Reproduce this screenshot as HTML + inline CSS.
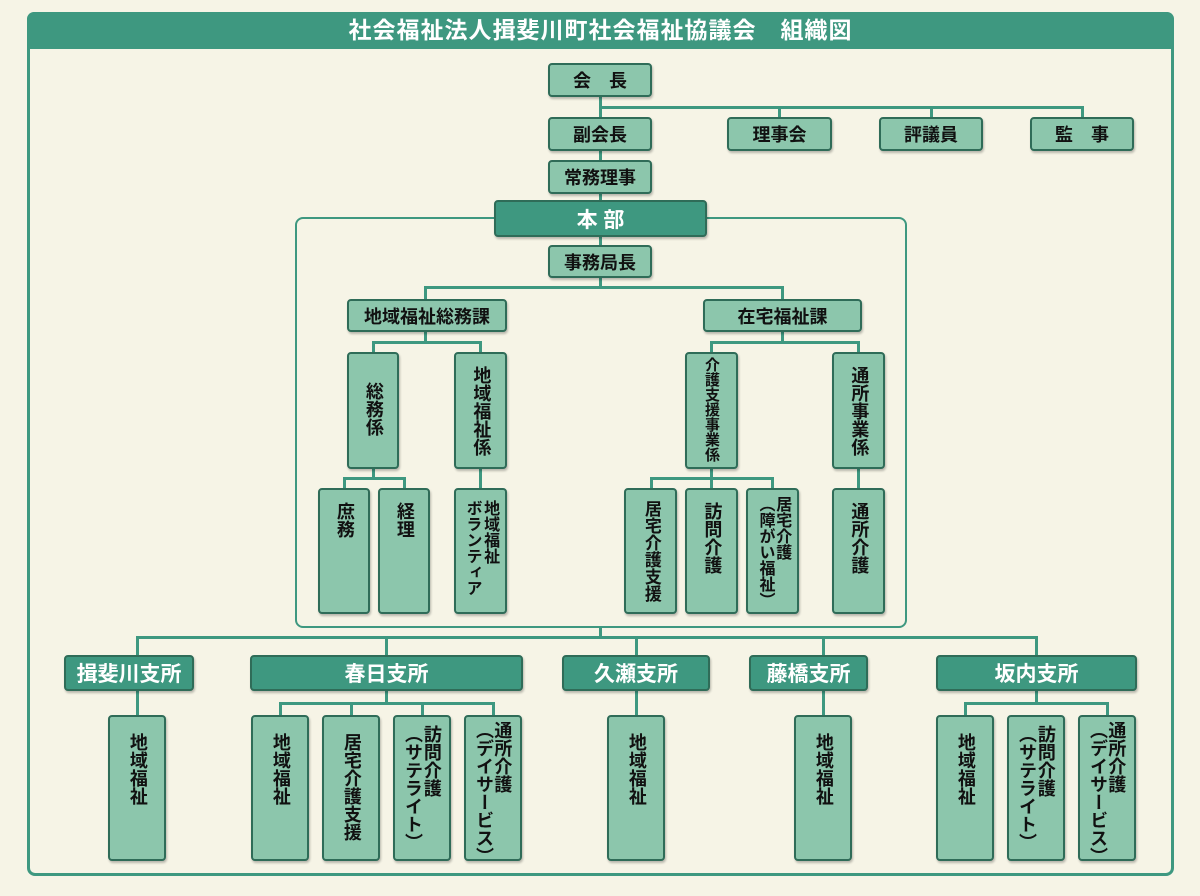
<!DOCTYPE html>
<html><head><meta charset="utf-8"><style>
*{margin:0;padding:0;box-sizing:border-box}
body{width:1200px;height:896px;background:#f6f4e6;position:relative;overflow:hidden;font-family:"Liberation Sans","Noto Sans CJK JP",sans-serif}
.a{position:absolute}
.frame{left:27px;top:12px;width:1147px;height:864px;border:3px solid #3e9880;border-radius:8px}
.title{left:27px;top:12px;width:1147px;height:37px;background:#3e9880;border-radius:7px 7px 0 0;color:#fff;font-size:23px;font-weight:bold;text-align:center;line-height:37px;letter-spacing:1px}
.inner{left:295px;top:217px;width:612px;height:411px;border:2.5px solid #3e9880;border-radius:8px}
.b{position:absolute;background:#8cc6ac;border:2px solid #2f6c58;border-radius:4px;color:#111;font-weight:bold;font-size:18px;display:flex;align-items:center;justify-content:center;box-shadow:1px 2px 2px rgba(0,0,0,.25)}
.d{background:#3e9880;color:#fff;font-size:21px}
.v{flex-direction:column;justify-content:flex-start;align-items:center;padding-top:12px}
.v span{writing-mode:vertical-rl;text-orientation:mixed;line-height:1.1;white-space:nowrap;letter-spacing:0}
.h{position:absolute;height:3px;background:#3e9880}
.w{position:absolute;width:3px;background:#3e9880}
</style></head><body>
<div class="a frame"></div>
<div class="a title">社会福祉法人揖斐川町社会福祉協議会　組織図</div>
<div class="a inner"></div>

<div class="w" style="left:599px;top:96px;height:150px"></div>
<div class="h" style="left:599px;top:106px;width:485px"></div>
<div class="w" style="left:778px;top:106px;height:12px"></div>
<div class="w" style="left:930px;top:106px;height:12px"></div>
<div class="w" style="left:1081px;top:106px;height:12px"></div>
<div class="w" style="left:599px;top:276px;height:12px"></div>
<div class="h" style="left:424px;top:286px;width:360px"></div>
<div class="w" style="left:424px;top:286px;height:14px"></div>
<div class="w" style="left:781px;top:286px;height:14px"></div>
<div class="w" style="left:424px;top:330px;height:12px"></div>
<div class="h" style="left:372px;top:341px;width:110px"></div>
<div class="w" style="left:372px;top:341px;height:12px"></div>
<div class="w" style="left:479px;top:341px;height:12px"></div>
<div class="w" style="left:372px;top:467px;height:12px"></div>
<div class="h" style="left:343px;top:477px;width:63px"></div>
<div class="w" style="left:343px;top:477px;height:12px"></div>
<div class="w" style="left:403px;top:477px;height:12px"></div>
<div class="w" style="left:479px;top:467px;height:22px"></div>
<div class="w" style="left:781px;top:330px;height:12px"></div>
<div class="h" style="left:710px;top:341px;width:150px"></div>
<div class="w" style="left:710px;top:341px;height:12px"></div>
<div class="w" style="left:857px;top:341px;height:12px"></div>
<div class="w" style="left:710px;top:467px;height:22px"></div>
<div class="h" style="left:650px;top:477px;width:124px"></div>
<div class="w" style="left:650px;top:477px;height:12px"></div>
<div class="w" style="left:771px;top:477px;height:12px"></div>
<div class="w" style="left:857px;top:467px;height:22px"></div>
<div class="w" style="left:599px;top:626px;height:12px"></div>
<div class="h" style="left:136px;top:636px;width:902px"></div>
<div class="w" style="left:136px;top:636px;height:80px"></div>
<div class="w" style="left:385px;top:636px;height:20px"></div>
<div class="w" style="left:635px;top:636px;height:80px"></div>
<div class="w" style="left:822px;top:636px;height:80px"></div>
<div class="w" style="left:1035px;top:636px;height:20px"></div>
<div class="w" style="left:385px;top:690px;height:13px"></div>
<div class="h" style="left:279px;top:702px;width:216px"></div>
<div class="w" style="left:279px;top:702px;height:14px"></div>
<div class="w" style="left:350px;top:702px;height:14px"></div>
<div class="w" style="left:421px;top:702px;height:14px"></div>
<div class="w" style="left:492px;top:702px;height:14px"></div>
<div class="w" style="left:1035px;top:690px;height:13px"></div>
<div class="h" style="left:964px;top:702px;width:145px"></div>
<div class="w" style="left:964px;top:702px;height:14px"></div>
<div class="w" style="left:1106px;top:702px;height:14px"></div>

<div class="b" style="left:548px;top:63px;width:104px;height:34px">会　長</div>
<div class="b" style="left:548px;top:117px;width:104px;height:34px">副会長</div>
<div class="b" style="left:727px;top:117px;width:105px;height:34px">理事会</div>
<div class="b" style="left:879px;top:117px;width:104px;height:34px">評議員</div>
<div class="b" style="left:1030px;top:117px;width:104px;height:34px">監　事</div>
<div class="b" style="left:548px;top:160px;width:104px;height:34px">常務理事</div>
<div class="b d" style="left:494px;top:200px;width:213px;height:37px">本 部</div>
<div class="b" style="left:548px;top:245px;width:104px;height:33px">事務局長</div>
<div class="b" style="left:347px;top:299px;width:160px;height:33px">地域福祉総務課</div>
<div class="b" style="left:703px;top:299px;width:159px;height:33px">在宅福祉課</div>
<div class="b v" style="left:347px;top:352px;width:52px;height:117px;padding-top:28px"><span>総務係</span></div>
<div class="b v" style="left:454px;top:352px;width:53px;height:117px"><span>地域福祉係</span></div>
<div class="b v" style="left:685px;top:352px;width:53px;height:117px;font-size:15px;padding-top:3px"><span style="line-height:1">介護支援事業係</span></div>
<div class="b v" style="left:832px;top:352px;width:53px;height:117px"><span>通所事業係</span></div>
<div class="b v" style="left:318px;top:488px;width:52px;height:126px"><span>庶務</span></div>
<div class="b v" style="left:378px;top:488px;width:52px;height:126px"><span>経理</span></div>
<div class="b v" style="left:454px;top:488px;width:53px;height:126px;font-size:16px;padding-top:10px"><span>地域福祉<br>ボランティア</span></div>
<div class="b v" style="left:624px;top:488px;width:53px;height:126px;font-size:17px;padding-top:10px"><span>居宅介護支援</span></div>
<div class="b v" style="left:685px;top:488px;width:53px;height:126px"><span>訪問介護</span></div>
<div class="b v" style="left:746px;top:488px;width:53px;height:126px;font-size:16px;padding-top:6px"><span style="line-height:1.05">居宅介護<br>（障がい福祉）</span></div>
<div class="b v" style="left:832px;top:488px;width:53px;height:126px"><span>通所介護</span></div>

<div class="b d" style="left:64px;top:655px;width:130px;height:36px">揖斐川支所</div>
<div class="b d" style="left:250px;top:655px;width:273px;height:36px">春日支所</div>
<div class="b d" style="left:562px;top:655px;width:148px;height:36px">久瀬支所</div>
<div class="b d" style="left:749px;top:655px;width:119px;height:36px">藤橋支所</div>
<div class="b d" style="left:936px;top:655px;width:201px;height:36px">坂内支所</div>

<div class="b v" style="left:108px;top:715px;width:58px;height:146px;padding-top:16px"><span>地域福祉</span></div>
<div class="b v" style="left:251px;top:715px;width:58px;height:146px;padding-top:16px"><span>地域福祉</span></div>
<div class="b v" style="left:322px;top:715px;width:58px;height:146px;padding-top:16px"><span>居宅介護支援</span></div>
<div class="b v" style="left:393px;top:715px;width:58px;height:146px;padding-top:8px"><span style="line-height:1.05">訪問介護<br>（サテライト）</span></div>
<div class="b v" style="left:464px;top:715px;width:58px;height:146px;padding-top:4px"><span style="line-height:1.02">通所介護<br>（デイサービス）</span></div>
<div class="b v" style="left:607px;top:715px;width:58px;height:146px;padding-top:16px"><span>地域福祉</span></div>
<div class="b v" style="left:794px;top:715px;width:58px;height:146px;padding-top:16px"><span>地域福祉</span></div>
<div class="b v" style="left:936px;top:715px;width:58px;height:146px;padding-top:16px"><span>地域福祉</span></div>
<div class="b v" style="left:1007px;top:715px;width:58px;height:146px;padding-top:8px"><span style="line-height:1.05">訪問介護<br>（サテライト）</span></div>
<div class="b v" style="left:1078px;top:715px;width:58px;height:146px;padding-top:4px"><span style="line-height:1.02">通所介護<br>（デイサービス）</span></div>
</body></html>
